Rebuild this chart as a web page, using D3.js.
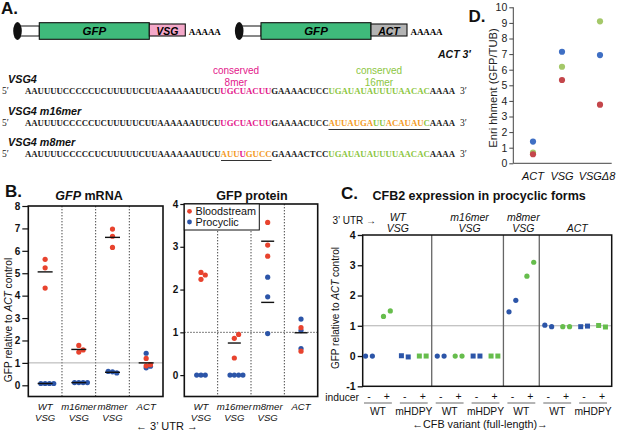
<!DOCTYPE html>
<html>
<head>
<meta charset="utf-8">
<script src="https://cdn.jsdelivr.net/npm/d3@7"></script>
<style>
  body { margin: 0; background: #fff; }
  svg { font-family: "Liberation Sans", Arial, sans-serif; }
</style>
</head>
<body>
<svg id="fig" width="617" height="432"></svg>
<script>
// ---------- data ----------
// panel B: 3' UTR reporters
const utrCats = ["WT VSG", "m16mer VSG", "m8mer VSG", "ACT"];
const mrnaBlood = [[5.62, 5.24, 4.34], [1.78, 1.48, 1.58], [6.97, 6.65, 6.15], [0.87, 1.2, 0.92]];
const mrnaProcyclic = [[0.08, 0.08, 0.08, 0.08], [0.12, 0.12, 0.12, 0.12], [0.6, 0.55, 0.62], [1.43, 0.78, 0.85]];
const mrnaMeans = [[5.06, 0.08], [1.6, 0.12], [6.6, 0.58], [1.0]];
const protBlood = [[2.4, 2.24, 2.34], [0.86, 0.95, 0.4], [3.57, 3.04, 2.78], [1.11, 0.56]];
const protProcyclic = [[0, 0, 0], [0, 0, 0, 0], [2.29, 1.83, 0.97], [1.31, 1.04, 0.62]];
const protMeans = [[], [0.75], [3.13, 1.7], [0.99]];
const mrnaTicks = [0, 1, 2, 3, 4, 5, 6, 7, 8];
const protTicks = [0, 1, 2, 3, 4];

// panel C: CFB2 tethering, two replicates per condition
const cfbUtr = ["WT VSG", "WT VSG", "WT VSG", "WT VSG", "m16mer VSG", "m16mer VSG", "m16mer VSG", "m16mer VSG",
  "m8mer VSG", "m8mer VSG", "ACT", "ACT", "ACT", "ACT"];
const cfbVariant = ["WT", "WT", "mHDPY", "mHDPY", "WT", "WT", "mHDPY", "mHDPY", "WT", "WT", "WT", "WT", "mHDPY", "mHDPY"];
const cfbInducer = ["-", "+", "-", "+", "-", "+", "-", "+", "-", "+", "-", "+", "-", "+"];
const cfbValues = [[0, 0], [1.31, 1.49], [0.01, -0.03], [0, 0], [0, 0], [0, 0], [0, 0], [0, 0],
  [1.46, 1.84], [2.64, 3.1], [1.02, 0.97], [0.97, 0.97], [0.97, 0.99], [1.01, 0.96]];
const cfbTicks = [-1, 0, 1, 2, 3, 4];

// panel D: enrichment
const enrCats = ["ACT", "VSG", "VSGΔ8"];
const enrBlue = [1.39, 7.15, 6.94];
const enrGreen = [0.68, 6.19, 9.1];
const enrRed = [0.58, 5.34, 3.76];
const enrTicks = [0, 1, 2, 3, 4, 5, 6, 7, 8, 9, 10];

const RED = "#e8432e", BLUE = "#2c55a8", GREEN = "#66bd4c";

const svg = d3.select("#fig");

function label(x, y, txt, size, opts = {}) {
  return svg.append("text").attr("x", x).attr("y", y).text(txt)
    .attr("font-size", size)
    .attr("font-weight", opts.bold ? "bold" : null)
    .attr("font-style", opts.italic ? "italic" : null)
    .attr("text-anchor", opts.anchor || "start")
    .attr("fill", opts.fill || "#111");
}

// ---------- panel A ----------
label(1, 14, "A.", 17, { bold: true });

function drawConstruct(x, utr, utrFill) {
  const g = svg.append("g");
  g.append("rect").attr("x", x + 4).attr("y", 26).attr("width", 22).attr("height", 10)
    .attr("fill", "#fff").attr("stroke", "#111").attr("stroke-width", 1);
  g.append("ellipse").attr("cx", x + 4.2).attr("cy", 31).attr("rx", 4.3).attr("ry", 9).attr("fill", "#111");
  g.append("rect").attr("x", x + 26).attr("y", 22.7).attr("width", 110).attr("height", 16.6)
    .attr("fill", "#3fba7b").attr("stroke", "#111").attr("stroke-width", 1.1);
  g.append("rect").attr("x", x + 136).attr("y", 24).attr("width", 36).attr("height", 12)
    .attr("fill", utrFill).attr("stroke", "#111").attr("stroke-width", 1.1);
  g.append("text").attr("x", x + 81).attr("y", 35).attr("text-anchor", "middle")
    .attr("font-size", 11.5).attr("font-weight", "bold").attr("font-style", "italic").text("GFP");
  g.append("text").attr("x", x + 154).attr("y", 34.5).attr("text-anchor", "middle")
    .attr("font-size", 10.5).attr("font-weight", "bold").attr("font-style", "italic").text(utr);
  g.append("text").attr("x", x + 175.5).attr("y", 34.5).attr("font-family", "Liberation Serif, serif")
    .attr("font-weight", "bold").attr("font-size", 9).attr("textLength", 32).text("AAAAA");
}
drawConstruct(13.3, "VSG", "#f4a8c9");
drawConstruct(235, "ACT", "#b3b3b3");

const MAG = "#e3178b", LGREEN = "#8cc63f", ORANGE = "#f39a1e";
const seqRows = [
  { name: "VSG4", y: 94, segs: [["AAUUUUCCCCCUCUUUUUCUUAAAAAAUUCU", "#222"], ["UGCUACUU", MAG], ["GAAAACUCC", "#222"],
    ["UGAUAUAUUUUAACAC", LGREEN], ["AAAA", "#222"]] },
  { name: "VSG4 m16mer", y: 126, segs: [["AAUUUUCCCCCUCUUUUUCUUAAAAAAUUCU", "#222"], ["UGCUACUU", MAG], ["GAAAACUCC", "#222"],
    ["AUUAUGA", ORANGE], ["UU", LGREEN], ["ACAUAU", ORANGE], ["C", LGREEN], ["AAAA", "#222"]], under: [48, 64] },
  { name: "VSG4 m8mer", y: 157, segs: [["AAUUUUCCCCCUCUUUUUCUUAAAAAAUUCU", "#222"], ["AUU", ORANGE], ["U", MAG], ["GUCC", ORANGE],
    ["GAAAACTCC", "#222"], ["UGAUAUAUUUUAACAC", LGREEN], ["AAAA", "#222"]], under: [31, 39] }
];
const seqX = 25, seqW = 430, nChar = 68, cw = seqW / nChar;
seqRows.forEach(r => {
  label(8, r.y - 11, r.name, 10.8, { bold: true, italic: true });
  svg.append("text").attr("x", 2).attr("y", r.y).attr("font-family", "Liberation Serif, serif")
    .attr("font-size", 9.5).attr("fill", "#222").text("5′");
  const t = svg.append("text").attr("x", seqX).attr("y", r.y).attr("font-family", "Liberation Serif, serif")
    .attr("font-weight", "bold").attr("font-size", 9).attr("textLength", seqW).attr("lengthAdjust", "spacingAndGlyphs");
  r.segs.forEach(s => t.append("tspan").attr("fill", s[1]).text(s[0]));
  svg.append("text").attr("x", 460).attr("y", r.y).attr("font-family", "Liberation Serif, serif")
    .attr("font-size", 9.5).attr("fill", "#222").text("3′");
  if (r.under) {
    svg.append("line").attr("x1", seqX + r.under[0] * cw).attr("x2", seqX + r.under[1] * cw)
      .attr("y1", r.y + 3.5).attr("y2", r.y + 3.5).attr("stroke", "#333").attr("stroke-width", 1);
  }
});
label(236, 74, "conserved", 10, { anchor: "middle", fill: MAG });
label(236, 85.5, "8mer", 10, { anchor: "middle", fill: MAG });
label(379, 74, "conserved", 10, { anchor: "middle", fill: LGREEN });
label(379, 85.5, "16mer", 10, { anchor: "middle", fill: LGREEN });
label(438, 58, "ACT 3′", 10.5, { bold: true, italic: true });

// ---------- panel B ----------
label(5, 197, "B.", 17, { bold: true });

function swarm(vals, y, d) {
  const placed = [];
  return vals.map(v => {
    const py = y(v);
    let k = 0, dx = 0;
    while (true) {
      dx = k === 0 ? 0 : (k % 2 ? 1 : -1) * Math.ceil(k / 2) * d;
      if (!placed.some(p => Math.hypot(p[0] - dx, p[1] - py) < d * 0.95)) break;
      k++;
    }
    placed.push([dx, py]);
    return { v, dx, py };
  });
}

function dotPanel(o) {
  const x = d3.scaleBand().domain(utrCats).range([o.x0, o.x1]);
  const y = d3.scaleLinear().domain(o.domain).range([396.5, o.top]);
  const g = svg.append("g");
  // separators
  utrCats.slice(1).forEach(c => {
    g.append("line").attr("x1", x(c)).attr("x2", x(c)).attr("y1", o.top).attr("y2", 396.5)
      .attr("stroke", "#333").attr("stroke-width", 0.9).attr("stroke-dasharray", "1.4,1.6");
  });
  g.append("line").attr("x1", o.x0).attr("x2", o.x1).attr("y1", y(1)).attr("y2", y(1))
    .attr("stroke", o.refDotted ? "#333" : "#9a9a9a").attr("stroke-width", o.refDotted ? 0.9 : 0.8)
    .attr("stroke-dasharray", o.refDotted ? "1.4,1.6" : null);
  g.append("rect").attr("x", o.x0).attr("y", o.top).attr("width", o.x1 - o.x0).attr("height", 396.5 - o.top)
    .attr("fill", "none").attr("stroke", "#111").attr("stroke-width", 1.6);
  const ax = g.append("g").attr("transform", `translate(${o.x0},0)`)
    .call(d3.axisLeft(y).tickValues(o.ticks).tickSize(o.tick).tickPadding(2).tickFormat(d3.format("d")));
  ax.select(".domain").remove();
  ax.selectAll("line").attr("stroke", "#111").attr("stroke-width", 1.2);
  ax.selectAll("text").attr("font-size", 10).attr("font-weight", "bold").attr("fill", "#111")
    .attr("font-family", "Liberation Sans, Arial, sans-serif");
  utrCats.forEach((c, i) => {
    const cx = x(c) + x.bandwidth() / 2;
    [[o.pro[i], BLUE], [o.blood[i], RED]].forEach(([vals, col]) => {
      g.selectAll(null).data(swarm(vals, y, 4.3)).enter().append("circle")
        .attr("cx", d => cx + d.dx).attr("cy", d => d.py).attr("r", 2.6).attr("fill", col);
    });
    o.means[i].forEach(m => {
      g.append("line").attr("x1", cx - o.meanW / 2).attr("x2", cx + o.meanW / 2)
        .attr("y1", y(m)).attr("y2", y(m)).attr("stroke", "#111").attr("stroke-width", 1.4);
    });
    c.split(" ").forEach((w, j) => {
      label(cx, 410 + j * 10.5, w, 9.6, { italic: true, anchor: "middle" });
    });
  });
  return { x, y };
}

dotPanel({ x0: 28.3, x1: 163, top: 206, domain: [-0.5, 8], ticks: mrnaTicks, tick: 6,
  blood: mrnaBlood, pro: mrnaProcyclic, means: mrnaMeans, meanW: 15, refDotted: false });
dotPanel({ x0: 184.3, x1: 317.7, top: 204, domain: [-0.5, 4], ticks: protTicks, tick: 4,
  blood: protBlood, pro: protProcyclic, means: protMeans, meanW: 13, refDotted: true });

const tMrna = label(89, 200, "", 12.5, { bold: true, anchor: "middle" });
tMrna.append("tspan").attr("font-style", "italic").text("GFP");
tMrna.append("tspan").text(" mRNA");
label(252, 200, "GFP protein", 12.5, { bold: true, anchor: "middle" });

function yLabel(x, y, size) {
  const t = svg.append("text").attr("transform", `translate(${x},${y}) rotate(-90)`)
    .attr("text-anchor", "middle").attr("font-size", size).attr("fill", "#111");
  t.append("tspan").text("GFP relative to ");
  t.append("tspan").attr("font-style", "italic").text("ACT");
  t.append("tspan").text(" control");
}
yLabel(12, 320, 10.2);
label(167, 430, "\u2190 3\u2019 UTR \u2192", 11, { anchor: "middle" });

// legend
svg.append("rect").attr("x", 184.3).attr("y", 204).attr("width", 75).attr("height", 26)
  .attr("fill", "#fff").attr("stroke", "#111").attr("stroke-width", 1);
svg.append("circle").attr("cx", 189.5).attr("cy", 211.3).attr("r", 2.4).attr("fill", RED);
svg.append("circle").attr("cx", 189.5).attr("cy", 222).attr("r", 2.4).attr("fill", BLUE);
label(195.5, 215, "Bloodstream", 10.8);
label(195.5, 225.7, "Procyclic", 10.8);

// ---------- panel C ----------
label(341, 199, "C.", 17, { bold: true });
label(372.5, 200, "CFB2 expression in procyclic forms", 12.5, { bold: true });

const cTop = 235, cBot = 386.3, cLeft = 362.7, cRight = 611.7;
const xC = d3.scaleBand().domain(d3.range(cfbValues.length)).range([360, 611]);
const yC = d3.scaleLinear().domain([-1, 4]).range([cBot, cTop]);
const gC = svg.append("g");
gC.append("line").attr("x1", cLeft).attr("x2", cRight).attr("y1", yC(1)).attr("y2", yC(1))
  .attr("stroke", "#a6a6a6").attr("stroke-width", 0.9);
cfbUtr.forEach((u, i) => {
  if (i > 0 && u !== cfbUtr[i - 1]) {
    gC.append("line").attr("x1", xC(i)).attr("x2", xC(i)).attr("y1", cTop).attr("y2", cBot)
      .attr("stroke", "#666").attr("stroke-width", 1.3);
  }
});
gC.append("rect").attr("x", cLeft).attr("y", cTop).attr("width", cRight - cLeft).attr("height", cBot - cTop)
  .attr("fill", "none").attr("stroke", "#111").attr("stroke-width", 1.5);
const axC = gC.append("g").attr("transform", `translate(${cLeft},0)`)
  .call(d3.axisLeft(yC).tickValues(cfbTicks).tickSize(5).tickPadding(2).tickFormat(d3.format("d")));
axC.select(".domain").remove();
axC.selectAll("line").attr("stroke", "#111").attr("stroke-width", 1.3);
axC.selectAll("text").attr("font-size", 10.5).attr("font-weight", "bold").attr("fill", "#111")
  .attr("font-family", "Liberation Sans, Arial, sans-serif").text(d => d < 0 ? "-" + Math.abs(d) : d);

const bw = xC.bandwidth();
cfbValues.forEach((vals, i) => {
  const col = cfbInducer[i] === "+" ? GREEN : BLUE;
  vals.forEach((v, j) => {
    const px = xC(i) + bw / 2 + (j === 0 ? -1 : 1) * bw * 0.19;
    if (cfbVariant[i] === "WT") {
      gC.append("circle").attr("cx", px).attr("cy", yC(v)).attr("r", 2.6).attr("fill", col);
    } else {
      gC.append("rect").attr("x", px - 2.5).attr("y", yC(v) - 2.5).attr("width", 5).attr("height", 5).attr("fill", col);
    }
  });
  label(xC(i) + bw / 2, 399.5, cfbInducer[i], 10.5, { anchor: "middle" });
});
// variant underlines and labels
for (let i = 0; i < cfbVariant.length; i += 2) {
  const a = xC(i) + 4, b = xC(i + 1) + bw - 4;
  gC.append("line").attr("x1", a).attr("x2", b).attr("y1", 403).attr("y2", 403).attr("stroke", "#444").attr("stroke-width", 0.8);
  label((a + b) / 2, 414.5, cfbVariant[i], 10.3, { anchor: "middle" });
}
// UTR headers
const utrGroups = d3.groups(d3.range(cfbUtr.length), i => cfbUtr[i]);
utrGroups.forEach(([u, idx]) => {
  const cx = (xC(idx[0]) + xC(idx[idx.length - 1]) + bw) / 2 + 2;
  const words = u.split(" ");
  words.forEach((w, j) => {
    label(cx, 232 - (words.length - 1 - j) * 11, w, 10.5, { italic: true, anchor: "middle" });
  });
});
label(332.5, 224, "3\u2019 UTR \u2192", 10);
label(359, 401, "inducer", 10.3, { anchor: "end" });
label(480, 428, "\u2190CFB variant (full-length)\u2192", 10.8, { anchor: "middle" });
yLabel(339, 308, 10);

// ---------- panel D ----------
label(468.5, 22, "D.", 17, { bold: true });
const yD = d3.scaleLinear().domain([0, 10]).range([163.3, 7.3]);
const xD = d3.scaleOrdinal().domain(enrCats).range([533, 562, 600]);
const gD = svg.append("g");
const axD = gD.append("g").attr("transform", "translate(513.3,0)")
  .call(d3.axisLeft(yD).tickValues(enrTicks).tickSize(4).tickPadding(2));
axD.select(".domain").attr("stroke", "#444").attr("d", "M0,163.3V7.3");
axD.selectAll("line").attr("stroke", "#444");
axD.selectAll("text").attr("font-size", 10.5).attr("fill", "#222")
  .attr("font-family", "Liberation Sans, Arial, sans-serif");
gD.append("line").attr("x1", 513.3).attr("x2", 611.7).attr("y1", 163.3).attr("y2", 163.3).attr("stroke", "#444");
[[enrBlue, "#3f6fc4"], [enrGreen, "#a4c869"], [enrRed, "#c4464b"]].forEach(([vals, col]) => {
  gD.selectAll(null).data(vals).enter().append("circle")
    .attr("cx", (d, i) => xD(enrCats[i])).attr("cy", d => yD(d)).attr("r", 3.1).attr("fill", col);
});
enrCats.forEach(c => label(xD(c) - (c === "VSGΔ8" ? 3 : 0), 179.5, c, 11, { italic: true, anchor: "middle" }));
svg.append("text").attr("transform", "translate(497,88) rotate(-90)").attr("text-anchor", "middle")
  .attr("font-size", 11.2).attr("fill", "#222").text("Enri hhment  (GFP/TUB)");
</script>
</body>
</html>
